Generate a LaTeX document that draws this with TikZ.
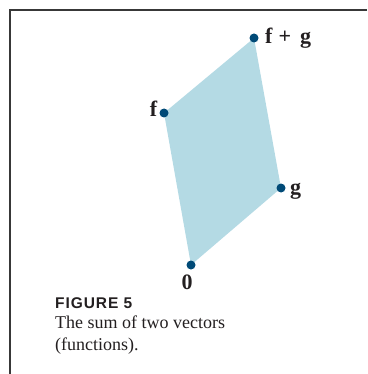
\documentclass[tikz,border=0pt]{standalone}
\usepackage{fontspec}
\setmainfont{Liberation Serif}
\newfontfamily\capsans[LetterSpace=6]{Liberation Sans}
\definecolor{fillblue}{RGB}{180,218,228}
\definecolor{dotblue}{RGB}{0,74,119}
\definecolor{inkdark}{RGB}{35,31,32}
\tikzset{
  dot/.style={circle,fill=dotblue,inner sep=0pt,minimum size=9pt},
  vlabel/.style={inner sep=0pt,text=inkdark,font=\fontsize{22}{26}\selectfont\bfseries},
  captxt/.style={inner sep=0pt,text=inkdark,anchor=base west},
}
\begin{document}
\begin{tikzpicture}[x=1pt,y=-1pt]
\useasboundingbox (0,0) rectangle (367,374);
\coordinate (c0) at (191,265);
\coordinate (cf) at (164,113);
\coordinate (cg) at (281,188);
\coordinate (cfg) at (254,38);
\fill[fillblue] (c0) -- (cf) -- (cfg) -- (cg) -- cycle;
\node[dot] (n0) at (c0) {};
\node[dot] (nf) at (cf) {};
\node[dot] (ng) at (cg) {};
\node[dot] (nfg) at (cfg) {};
\coordinate (frameTR) at (367,10);
\coordinate (frameTL) at (10,10);
\coordinate (frameBL) at (10,374);
\draw[line width=1.3pt,black!78] (frameTR) -- (frameTL) -- (frameBL);
\node[vlabel,anchor=base west] (lfg) at (265,44) {f\hspace{6pt}+\hspace{9pt}g};
\node[vlabel,anchor=base east] (lf) at (157.5,117) {f};
\node[vlabel,anchor=base west] (lg) at (290,194) {g};
\node[vlabel,anchor=base] (l0) at (187,289) {0};
\node[captxt,font=\capsans\fontsize{15.5}{17}\selectfont\bfseries] (fig) at (55,308) {FIGURE 5};
\node[captxt,font=\fontsize{18}{22}\selectfont] (cap1) at (55,328) {The sum of two vectors};
\node[captxt,font=\fontsize{18}{22}\selectfont] (cap2) at (55,350) {(functions).};
\end{tikzpicture}
\end{document}
